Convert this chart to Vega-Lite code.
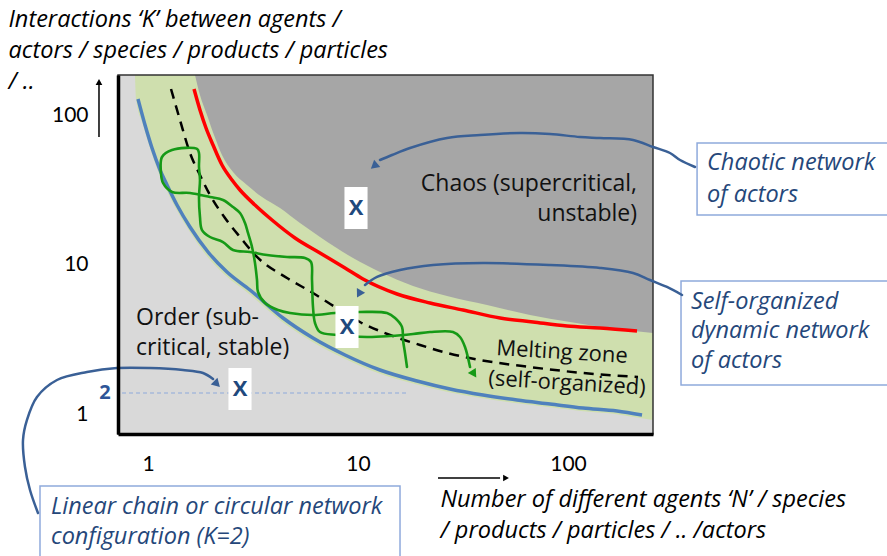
{
  "$schema": "https://vega.github.io/schema/vega-lite/v6.json",
  "width": 535,
  "height": 359,
  "autosize": {"type": "none"},
  "padding": {"left": 118, "top": 75, "right": 234, "bottom": 122},
  "background": "white",
  "config": {
    "font": "Lato",
    "view": {"fill": "#d9d9d9", "stroke": null}
  },
  "datasets": {
    "green": [
      {"N": 0.867, "K": 184.8}, {"N": 0.877, "K": 127.9}, {"N": 0.947, "K": 85.76}, {"N": 1.022, "K": 60.25},
      {"N": 1.116, "K": 42.33}, {"N": 1.205, "K": 33.11}, {"N": 1.345, "K": 24.36}, {"N": 1.551, "K": 17.38},
      {"N": 1.889, "K": 11.66}, {"N": 2.326, "K": 8.576}, {"N": 2.993, "K": 6.506}, {"N": 4.298, "K": 4.233},
      {"N": 5.973, "K": 3.113}, {"N": 8.483, "K": 2.399}, {"N": 12.45, "K": 1.905}, {"N": 18.68, "K": 1.609},
      {"N": 26.83, "K": 1.424}, {"N": 38.52, "K": 1.298}, {"N": 55.92, "K": 1.202}, {"N": 80.32, "K": 1.131},
      {"N": 115.3, "K": 1.063}, {"N": 167.4, "K": 1.015}, {"N": 220.3, "K": 0.955}, {"N": 253.9, "K": 0.926}
    ],
    "chaos": [
      {"N": 1.674, "K": 184.8}, {"N": 1.768, "K": 135.9}, {"N": 1.91, "K": 100}, {"N": 2.062, "K": 73.56},
      {"N": 2.251, "K": 54.12}, {"N": 2.54, "K": 41.69}, {"N": 2.96, "K": 34.14}, {"N": 3.491, "K": 28.4},
      {"N": 4.252, "K": 23.99}, {"N": 5.293, "K": 19.05}, {"N": 6.592, "K": 15.37}, {"N": 9.467, "K": 11.13},
      {"N": 12.73, "K": 8.98}, {"N": 18.28, "K": 7.244}, {"N": 26.54, "K": 6.214}, {"N": 41.15, "K": 5.412},
      {"N": 65.92, "K": 4.642}, {"N": 102.2, "K": 4.169}, {"N": 158.5, "K": 3.802}, {"N": 253.9, "K": 3.521}
    ],
    "blue": [
      {"N": 0.896, "K": 127.9}, {"N": 0.968, "K": 85.77}, {"N": 1.045, "K": 60.26}, {"N": 1.141, "K": 42.99},
      {"N": 1.232, "K": 34.15}, {"N": 1.374, "K": 25.12}, {"N": 1.585, "K": 17.92}, {"N": 1.931, "K": 12.21},
      {"N": 2.378, "K": 8.98}, {"N": 3.06, "K": 6.813}, {"N": 4.394, "K": 4.433}, {"N": 6.105, "K": 3.261},
      {"N": 8.674, "K": 2.512}, {"N": 12.73, "K": 1.995}, {"N": 19.1, "K": 1.685}, {"N": 27.43, "K": 1.491},
      {"N": 39.38, "K": 1.359}, {"N": 57.18, "K": 1.259}, {"N": 82.1, "K": 1.184}, {"N": 117.9, "K": 1.113},
      {"N": 171.1, "K": 1.063}, {"N": 225.1, "K": 1.0}
    ],
    "red": [
      {"N": 1.656, "K": 149.1}, {"N": 1.768, "K": 108.0}, {"N": 1.889, "K": 81.91}, {"N": 2.04, "K": 63.1},
      {"N": 2.251, "K": 46.42}, {"N": 2.512, "K": 36.87}, {"N": 2.742, "K": 31.62}, {"N": 3.232, "K": 25.12},
      {"N": 3.894, "K": 19.95}, {"N": 5.012, "K": 15.14}, {"N": 6.592, "K": 12.02}, {"N": 8.674, "K": 9.55},
      {"N": 10.56, "K": 8.067}, {"N": 15.34, "K": 6.407}, {"N": 22.03, "K": 5.58}, {"N": 31.62, "K": 5.012},
      {"N": 47.46, "K": 4.433}, {"N": 68.13, "K": 4.169}, {"N": 98.9, "K": 3.921}, {"N": 142.0, "K": 3.802},
      {"N": 213.1, "K": 3.631}
    ],
    "dash": [
      {"N": 1.287, "K": 149.1}, {"N": 1.42, "K": 92.62}, {"N": 1.585, "K": 55.8}, {"N": 1.768, "K": 39.81},
      {"N": 1.973, "K": 29.29}, {"N": 2.326, "K": 20.58}, {"N": 2.742, "K": 15.37}, {"N": 3.304, "K": 11.31},
      {"N": 4.592, "K": 8.19}, {"N": 6.105, "K": 6.506}, {"N": 7.77, "K": 5.248}, {"N": 10.22, "K": 4.169},
      {"N": 14.2, "K": 3.414}, {"N": 19.73, "K": 2.929}, {"N": 26.54, "K": 2.591}, {"N": 38.11, "K": 2.326},
      {"N": 65.92, "K": 2.089}, {"N": 117.9, "K": 1.905}, {"N": 215.4, "K": 1.792}
    ],
    "wiggle": [
      {"o": 1, "N": 17.11, "K": 2.089}, {"o": 2, "N": 16.74, "K": 2.591}, {"o": 3, "N": 16.38, "K": 3.162},
      {"o": 4, "N": 16.2, "K": 3.861}, {"o": 5, "N": 15.01, "K": 4.433}, {"o": 6, "N": 13.74, "K": 4.786},
      {"o": 7, "N": 10.22, "K": 4.86}, {"o": 8, "N": 7.77, "K": 4.786}, {"o": 9, "N": 6.105, "K": 4.642},
      {"o": 10, "N": 4.745, "K": 4.786}, {"o": 11, "N": 4.159, "K": 5.012}, {"o": 12, "N": 3.607, "K": 5.58},
      {"o": 13, "N": 3.341, "K": 6.607}, {"o": 14, "N": 3.304, "K": 7.943}, {"o": 15, "N": 3.232, "K": 10.31},
      {"o": 16, "N": 3.128, "K": 13.18}, {"o": 17, "N": 2.993, "K": 16.35}, {"o": 18, "N": 2.897, "K": 19.05},
      {"o": 19, "N": 2.742, "K": 22.22}, {"o": 20, "N": 2.54, "K": 24.36}, {"o": 21, "N": 2.276, "K": 27.13},
      {"o": 22, "N": 1.973, "K": 28.4}, {"o": 23, "N": 1.585, "K": 30.2}, {"o": 24, "N": 1.301, "K": 30.67},
      {"o": 25, "N": 1.179, "K": 35.22}, {"o": 26, "N": 1.153, "K": 41.05}, {"o": 27, "N": 1.166, "K": 52.48},
      {"o": 28, "N": 1.301, "K": 58.44}, {"o": 29, "N": 1.711, "K": 59.35}, {"o": 30, "N": 1.749, "K": 55.8},
      {"o": 31, "N": 1.749, "K": 45.01}, {"o": 32, "N": 1.768, "K": 36.87}, {"o": 33, "N": 1.749, "K": 28.4},
      {"o": 34, "N": 1.768, "K": 20.89}, {"o": 35, "N": 1.808, "K": 17.11}, {"o": 36, "N": 1.973, "K": 15.37},
      {"o": 37, "N": 2.276, "K": 14.23}, {"o": 38, "N": 2.54, "K": 12.59}, {"o": 39, "N": 3.06, "K": 12.21},
      {"o": 40, "N": 3.687, "K": 11.66}, {"o": 41, "N": 4.592, "K": 11.31}, {"o": 42, "N": 5.592, "K": 11.13},
      {"o": 43, "N": 5.973, "K": 10.47}, {"o": 44, "N": 6.039, "K": 7.943}, {"o": 45, "N": 6.105, "K": 5.248},
      {"o": 46, "N": 6.241, "K": 4.105}, {"o": 47, "N": 6.592, "K": 3.576}, {"o": 48, "N": 7.943, "K": 3.414},
      {"o": 49, "N": 11.04, "K": 3.311}, {"o": 50, "N": 14.2, "K": 3.362}, {"o": 51, "N": 18.28, "K": 3.467},
      {"o": 52, "N": 22.03, "K": 3.576}, {"o": 53, "N": 28.34, "K": 3.576}, {"o": 54, "N": 30.6, "K": 3.311},
      {"o": 55, "N": 32.32, "K": 2.84}, {"o": 56, "N": 34.15, "K": 2.089}
    ],
    "k2": [{"N": 0.752, "K": 1.402}, {"N": 17.3, "K": 1.402}],
    "xmarks": [{"N": 9.783, "K": 23.99}, {"N": 8.863, "K": 3.861}, {"N": 2.742, "K": 1.491}],
    "chaostext": [
      {"N": 213.1, "K": 34.67, "label": "Chaos (supercritical,"},
      {"N": 213.1, "K": 21.88, "label": "unstable)"}
    ],
    "ordertext": [
      {"N": 0.877, "K": 4.433, "label": "Order (sub-"},
      {"N": 0.877, "K": 2.797, "label": "critical, stable)"}
    ],
    "melttext": [
      {"N": 93.63, "K": 2.63, "label": "Melting zone"},
      {"N": 98.9, "K": 1.635, "label": "(self-organized)"}
    ],
    "boxes": [
      {"N": 411.6, "N2": 3415, "K": 65.07, "K2": 21.54},
      {"N": 345.2, "N2": 3415, "K": 7.822, "K2": 1.585},
      {"N": 0.306, "N2": 15.85, "K": 0.3363, "K2": 0.108}
    ],
    "ctext": [
      {"N": 459.2, "K": 47.86, "label": "Chaotic network"},
      {"N": 459.2, "K": 29.29, "label": "of  actors"},
      {"N": 385.2, "K": 5.666, "label": "Self-organized"},
      {"N": 385.2, "K": 3.631, "label": "dynamic network"},
      {"N": 385.2, "K": 2.291, "label": "of actors"},
      {"N": 0.3452, "K": 0.2436, "label": "Linear chain or circular network"},
      {"N": 0.3452, "K": 0.1537, "label": "configuration (K=2)"}
    ],
    "arrows": [
      {"arrow": "chaos", "o": 1, "N": 402.4, "K": 45.01}, {"arrow": "chaos", "o": 2, "N": 341.5, "K": 50.12},
      {"arrow": "chaos", "o": 3, "N": 305.9, "K": 55.8}, {"arrow": "chaos", "o": 4, "N": 254.0, "K": 61.19},
      {"arrow": "chaos", "o": 5, "N": 204.0, "K": 68.13}, {"arrow": "chaos", "o": 6, "N": 142.0, "K": 70.24},
      {"arrow": "chaos", "o": 7, "N": 114.0, "K": 71.35}, {"arrow": "chaos", "o": 8, "N": 82.1, "K": 74.7},
      {"arrow": "chaos", "o": 9, "N": 59.08, "K": 75.86}, {"arrow": "chaos", "o": 10, "N": 38.11, "K": 73.56},
      {"arrow": "chaos", "o": 11, "N": 26.54, "K": 70.24}, {"arrow": "chaos", "o": 12, "N": 17.68, "K": 60.25},
      {"arrow": "chaos", "o": 13, "N": 14.52, "K": 54.12}, {"arrow": "chaos", "o": 14, "N": 12.73, "K": 50.12},
      {"arrow": "self", "o": 1, "N": 349.1, "K": 6.31}, {"arrow": "self", "o": 2, "N": 296.0, "K": 7.135},
      {"arrow": "self", "o": 3, "N": 245.7, "K": 7.943}, {"arrow": "self", "o": 4, "N": 204.0, "K": 8.845},
      {"arrow": "self", "o": 5, "N": 142.0, "K": 9.55}, {"arrow": "self", "o": 6, "N": 82.1, "K": 10.0},
      {"arrow": "self", "o": 7, "N": 39.38, "K": 10.31}, {"arrow": "self", "o": 8, "N": 22.76, "K": 10.0},
      {"arrow": "self", "o": 9, "N": 15.85, "K": 9.261}, {"arrow": "self", "o": 10, "N": 12.32, "K": 8.318},
      {"arrow": "self", "o": 11, "N": 10.8, "K": 7.356},
      {"arrow": "linear", "o": 1, "N": 0.2993, "K": 0.2222}, {"arrow": "linear", "o": 2, "N": 0.2742, "K": 0.3162},
      {"arrow": "linear", "o": 3, "N": 0.2596, "K": 0.45}, {"arrow": "linear", "o": 4, "N": 0.254, "K": 0.6813},
      {"arrow": "linear", "o": 5, "N": 0.2653, "K": 0.9261}, {"arrow": "linear", "o": 6, "N": 0.296, "K": 1.318},
      {"arrow": "linear", "o": 7, "N": 0.3687, "K": 1.711}, {"arrow": "linear", "o": 8, "N": 0.5124, "K": 1.935},
      {"arrow": "linear", "o": 9, "N": 0.7117, "K": 2.057}, {"arrow": "linear", "o": 10, "N": 1.022, "K": 2.057},
      {"arrow": "linear", "o": 11, "N": 1.468, "K": 1.995}, {"arrow": "linear", "o": 12, "N": 1.828, "K": 1.905},
      {"arrow": "linear", "o": 13, "N": 2.04, "K": 1.738}
    ],
    "heads": [
      {"arrow": "chaos", "N": 11.92, "K": 45.71},
      {"arrow": "self", "N": 10.11, "K": 6.407},
      {"arrow": "linear", "N": 2.131, "K": 1.609},
      {"arrow": "green", "N": 35.68, "K": 1.877},
      {"arrow": "yaxis", "N": 0.5843, "K": 166.0},
      {"arrow": "xaxis", "N": 50.68, "K": 0.3802}
    ],
    "axarrows": [
      {"arrow": "y", "o": 1, "N": 0.5843, "K": 71.35}, {"arrow": "y", "o": 2, "N": 0.5843, "K": 160.0},
      {"arrow": "x", "o": 1, "N": 24.04, "K": 0.3802}, {"arrow": "x", "o": 2, "N": 47.46, "K": 0.3802}
    ],
    "two": [{"N": 0.624, "K": 1.402, "label": "2"}],
    "frame": [{"N": 0.7197, "N2": 253.9, "K": 184.8, "K2": 0.7469}]
  },
  "encoding": {
    "x": {
      "field": "N", "type": "quantitative",
      "scale": {"type": "log", "domain": [0.7197, 253.9], "nice": false},
      "axis": {
        "values": [1, 10, 100], "format": "d", "ticks": false, "tickSize": 0, "grid": false,
        "domain": true, "domainColor": "#000000", "domainWidth": 3.5, "zindex": 1,
        "labelFont": "Lato", "labelFontSize": 21, "labelColor": "#000000", "labelPadding": 19,
        "labelFlush": false, "labelOverlap": false,
        "title": ["Number of different agents ‘N’ / species", "/ products / particles / .. /actors"],
        "titleFont": "Open Sans", "titleFontStyle": "italic", "titleFontWeight": "normal", "titleFontSize": 23.5,
        "titleColor": "#000000", "titleLineHeight": 31, "titleX": 322, "titleY": 72,
        "titleAlign": "left", "titleBaseline": "alphabetic", "titleAngle": 0
      }
    },
    "y": {
      "field": "K", "type": "quantitative",
      "scale": {"type": "log", "domain": [0.7469, 184.8], "nice": false},
      "axis": {
        "values": [1, 10, 100], "format": "d", "ticks": false, "tickSize": 0, "grid": false,
        "domain": true, "domainColor": "#000000", "domainWidth": 3.5, "zindex": 1,
        "labelFont": "Lato", "labelFontSize": 21, "labelColor": "#000000", "labelPadding": 30,
        "labelFlush": false, "labelOverlap": false,
        "title": ["Interactions ‘K’ between agents /", "actors / species / products / particles", "/ .."],
        "titleFont": "Open Sans", "titleFontStyle": "italic", "titleFontWeight": "normal", "titleFontSize": 23.5,
        "titleColor": "#000000", "titleLineHeight": 31, "titleX": -110, "titleY": -49,
        "titleAlign": "left", "titleBaseline": "alphabetic", "titleAngle": 0
      }
    }
  },
  "layer": [
    {
      "data": {"name": "green"},
      "mark": {"type": "area", "color": "#cfdfae", "interpolate": "monotone"},
      "encoding": {"y2": {"datum": 184.8}}
    },
    {
      "data": {"name": "chaos"},
      "mark": {"type": "area", "color": "#a6a6a6", "interpolate": "monotone"},
      "encoding": {"y2": {"datum": 184.8}}
    },
    {
      "data": {"name": "frame"},
      "mark": {"type": "rect", "fill": null, "fillOpacity": 0, "stroke": "#333333", "strokeWidth": 1.5},
      "encoding": {"x2": {"field": "N2"}, "y2": {"field": "K2"}}
    },
    {
      "data": {"name": "k2"},
      "mark": {"type": "line", "color": "#8eaadb", "strokeWidth": 1.2, "strokeDash": [4, 3]},
      "encoding": {}
    },
    {
      "data": {"name": "blue"},
      "mark": {"type": "line", "color": "#4f81bd", "strokeWidth": 3.5, "interpolate": "monotone"},
      "encoding": {}
    },
    {
      "data": {"name": "red"},
      "mark": {"type": "line", "color": "#ff0000", "strokeWidth": 3.5, "interpolate": "monotone"},
      "encoding": {}
    },
    {
      "data": {"name": "dash"},
      "mark": {"type": "line", "color": "#000000", "strokeWidth": 2.5, "strokeDash": [10, 7], "interpolate": "monotone"},
      "encoding": {}
    },
    {
      "data": {"name": "wiggle"},
      "mark": {"type": "line", "color": "#169a16", "strokeWidth": 2.6, "strokeCap": "round", "strokeJoin": "round", "interpolate": "catmull-rom"},
      "encoding": {"order": {"field": "o", "type": "quantitative"}}
    },
    {
      "data": {"name": "heads"},
      "transform": [{"filter": "datum.arrow == 'green'"}],
      "mark": {"type": "point", "shape": "triangle-up", "filled": true, "color": "#169a16", "opacity": 1, "size": 90, "angle": 147},
      "encoding": {}
    },
    {
      "data": {"name": "xmarks"},
      "mark": {"type": "point", "shape": "M-0.55,-1L0.55,-1L0.55,1L-0.55,1Z", "filled": true, "color": "#ffffff", "opacity": 1, "size": 1764, "strokeWidth": 0},
      "encoding": {}
    },
    {
      "data": {"name": "xmarks"},
      "mark": {"type": "text", "text": "X", "font": "Open Sans", "fontWeight": "bold", "fontSize": 22, "color": "#1f497d", "align": "center", "baseline": "middle"},
      "encoding": {}
    },
    {
      "data": {"name": "chaostext"},
      "mark": {"type": "text", "font": "Open Sans", "fontSize": 23, "color": "#111111", "align": "right", "baseline": "middle"},
      "encoding": {"text": {"field": "label"}}
    },
    {
      "data": {"name": "ordertext"},
      "mark": {"type": "text", "font": "Open Sans", "fontSize": 23, "color": "#111111", "align": "left", "baseline": "middle"},
      "encoding": {"text": {"field": "label"}}
    },
    {
      "data": {"name": "melttext"},
      "mark": {"type": "text", "font": "Open Sans", "fontSize": 22, "color": "#111111", "align": "center", "baseline": "middle", "angle": 3.5},
      "encoding": {"text": {"field": "label"}}
    },
    {
      "data": {"name": "boxes"},
      "mark": {"type": "rect", "fill": "#ffffff", "stroke": "#8faadc", "strokeWidth": 1.5},
      "encoding": {"x2": {"field": "N2"}, "y2": {"field": "K2"}}
    },
    {
      "data": {"name": "ctext"},
      "mark": {"type": "text", "font": "Open Sans", "fontStyle": "italic", "fontSize": 23.5, "color": "#25477a", "align": "left", "baseline": "middle"},
      "encoding": {"text": {"field": "label"}}
    },
    {
      "data": {"name": "arrows"},
      "mark": {"type": "line", "color": "#3a6096", "strokeWidth": 2.5, "strokeCap": "round", "interpolate": "catmull-rom"},
      "encoding": {"detail": {"field": "arrow"}, "order": {"field": "o", "type": "quantitative"}}
    },
    {
      "data": {"name": "heads"},
      "transform": [{"filter": "datum.arrow == 'chaos'"}],
      "mark": {"type": "point", "shape": "triangle-up", "filled": true, "color": "#3a6096", "opacity": 1, "size": 90, "angle": 230},
      "encoding": {}
    },
    {
      "data": {"name": "heads"},
      "transform": [{"filter": "datum.arrow == 'self'"}],
      "mark": {"type": "point", "shape": "triangle-up", "filled": true, "color": "#3a6096", "opacity": 1, "size": 90, "angle": 209},
      "encoding": {}
    },
    {
      "data": {"name": "heads"},
      "transform": [{"filter": "datum.arrow == 'linear'"}],
      "mark": {"type": "point", "shape": "triangle-up", "filled": true, "color": "#3a6096", "opacity": 1, "size": 90, "angle": 135},
      "encoding": {}
    },
    {
      "data": {"name": "two"},
      "mark": {"type": "text", "font": "Open Sans", "fontWeight": "bold", "fontSize": 20, "color": "#2f5597", "align": "center", "baseline": "middle"},
      "encoding": {"text": {"field": "label"}}
    },
    {
      "data": {"name": "axarrows"},
      "mark": {"type": "line", "color": "#000000", "strokeWidth": 1.5},
      "encoding": {"detail": {"field": "arrow"}, "order": {"field": "o", "type": "quantitative"}}
    },
    {
      "data": {"name": "heads"},
      "transform": [{"filter": "datum.arrow == 'yaxis'"}],
      "mark": {"type": "point", "shape": "triangle-up", "filled": true, "color": "#000000", "opacity": 1, "size": 45, "angle": 0},
      "encoding": {}
    },
    {
      "data": {"name": "heads"},
      "transform": [{"filter": "datum.arrow == 'xaxis'"}],
      "mark": {"type": "point", "shape": "triangle-up", "filled": true, "color": "#000000", "opacity": 1, "size": 45, "angle": 90},
      "encoding": {}
    }
  ]
}
